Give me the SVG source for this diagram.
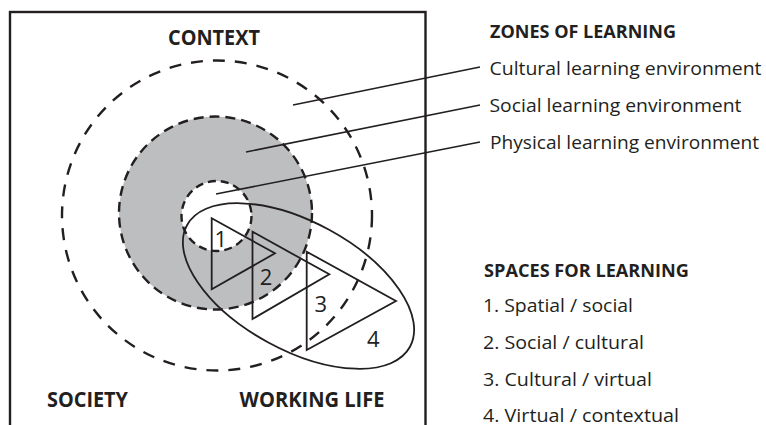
<svg xmlns="http://www.w3.org/2000/svg" width="766" height="425" viewBox="0 0 766 425">
  <style>
    .bold { font-family: "Open Sans", "Noto Sans", "Liberation Sans", sans-serif; font-weight: 700; fill: #231f20; }
    .reg { font-family: "Open Sans", "Noto Sans", "Liberation Sans", sans-serif; font-weight: 400; fill: #231f20; }
    .dash { fill: none; stroke: #231f20; stroke-width: 2.4; }
    .solid { fill: none; stroke: #231f20; stroke-width: 1.8; stroke-linejoin: miter; }
    .lead { stroke: #231f20; stroke-width: 1.6; fill: none; }
  </style>
  <rect x="0" y="0" width="766" height="425" fill="#ffffff"/>
  <g id="frame">
    <rect x="10" y="12" width="415.5" height="440" fill="none" stroke="#231f20" stroke-width="2.4"/>
  </g>
  <g id="zones">
    <circle id="cultural-zone" cx="217" cy="215.5" r="155" class="dash" stroke-dasharray="12 10"/>
    <circle id="social-zone" cx="215.5" cy="213" r="96.5" fill="#bcbec0" stroke="#231f20" stroke-width="2.4" stroke-dasharray="10 6"/>
    <circle id="physical-zone" cx="216.5" cy="216" r="35" fill="#ffffff" stroke="#231f20" stroke-width="2.4" stroke-dasharray="8 5"/>
  </g>
  <g id="spaces">
    <ellipse id="space-ellipse" cx="298.5" cy="286" rx="127" ry="64" transform="rotate(28.6 298.5 286)" class="solid"/>
    <g id="space-1">
      <polygon points="211.7,218.3 211.7,289.3 275,253.3" class="solid"/>
      <text x="220.7" y="247" class="reg" font-size="22" text-anchor="middle">1</text>
    </g>
    <g id="space-2">
      <polygon points="252.5,231.7 252.5,319 329.3,274.3" class="solid"/>
      <text x="266" y="285" class="reg" font-size="22" text-anchor="middle">2</text>
    </g>
    <g id="space-3">
      <polygon points="306.7,251.7 306.7,350 396,301" class="solid"/>
      <text x="320.7" y="312" class="reg" font-size="22" text-anchor="middle">3</text>
    </g>
    <text id="space-4" x="373.3" y="347" class="reg" font-size="22" text-anchor="middle">4</text>
  </g>
  <g id="connectors">
    <line x1="293" y1="105" x2="480" y2="67" class="lead"/>
    <line x1="246" y1="152" x2="480" y2="105" class="lead"/>
    <line x1="216" y1="194" x2="480" y2="142" class="lead"/>
  </g>
  <g id="labels">
    <text x="168" y="45" class="bold" font-size="21" textLength="92" lengthAdjust="spacingAndGlyphs">CONTEXT</text>
    <text x="47" y="407" class="bold" font-size="21" textLength="81" lengthAdjust="spacingAndGlyphs">SOCIETY</text>
    <text x="239.5" y="407" class="bold" font-size="21" textLength="145" lengthAdjust="spacingAndGlyphs">WORKING LIFE</text>
  </g>
  <g id="legend-zones">
    <text x="490" y="38" class="bold" font-size="17" textLength="186" lengthAdjust="spacingAndGlyphs">ZONES OF LEARNING</text>
    <text x="489.5" y="75" class="reg" font-size="18" textLength="272" lengthAdjust="spacingAndGlyphs">Cultural learning environment</text>
    <text x="489.5" y="112" class="reg" font-size="18" textLength="252" lengthAdjust="spacingAndGlyphs">Social learning environment</text>
    <text x="490" y="149" class="reg" font-size="18" textLength="269" lengthAdjust="spacingAndGlyphs">Physical learning environment</text>
  </g>
  <g id="legend-spaces">
    <text x="484" y="277" class="bold" font-size="17" textLength="205" lengthAdjust="spacingAndGlyphs">SPACES FOR LEARNING</text>
    <text x="483" y="312" class="reg" font-size="18" textLength="150" lengthAdjust="spacingAndGlyphs">1. Spatial / social</text>
    <text x="483" y="349" class="reg" font-size="18" textLength="161" lengthAdjust="spacingAndGlyphs">2. Social / cultural</text>
    <text x="483" y="386" class="reg" font-size="18" textLength="169" lengthAdjust="spacingAndGlyphs">3. Cultural / virtual</text>
    <text x="483" y="422" class="reg" font-size="18" textLength="196" lengthAdjust="spacingAndGlyphs">4. Virtual / contextual</text>
  </g>
</svg>
